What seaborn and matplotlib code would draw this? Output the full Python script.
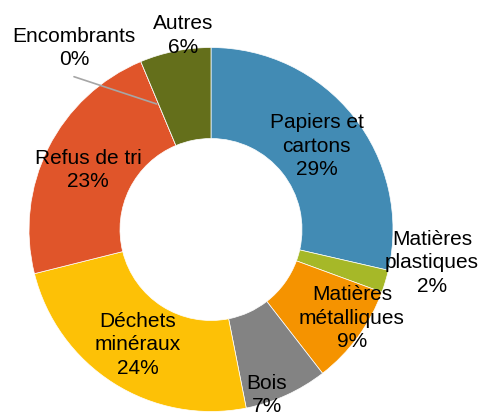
import matplotlib
matplotlib.use("Agg")
import matplotlib.pyplot as plt
import seaborn as sns
import numpy as np

sns.set_theme(style="white")
plt.rcParams['font.family'] = ['Liberation Sans', 'DejaVu Sans']

categories = ["Papiers et\ncartons", "Matières\nplastiques", "Matières\nmétalliques", "Bois",
              "Déchets\nminéraux", "Refus de tri", "Encombrants", "Autres"]
values = [28.6, 2.0, 8.9, 7.4, 24.2, 22.6, 0.0, 6.3]
pct_labels = ["29%", "2%", "9%", "7%", "24%", "23%", "0%", "6%"]
colors = ["#428BB4", "#A6B828", "#F59300", "#838383", "#FDC106", "#E0552A", "#A0A0A0", "#646F1B"]

fig = plt.figure(figsize=(4.8, 4.12), dpi=100)
ax = fig.add_axes([0, 0, 1, 1])
R = 182.0
cx, cy = 211.0, 229.5

wedges, _ = ax.pie(values, colors=colors, startangle=90, counterclock=False,
                   radius=1.0, wedgeprops=dict(width=0.5, edgecolor='white', linewidth=0.5),
                   frame=False)
ax.set_xlim(-cx / R, (480 - cx) / R)
ax.set_ylim((cy - 412) / R, cy / R)
ax.set_aspect('equal')
ax.axis('off')


def px(x, y):
    return ((x - cx) / R, (cy - y) / R)

label_pos = {
    0: px(316.7, 146),
    1: px(432, 263),
    2: px(352, 318),
    3: px(267, 395),
    4: px(138, 345),
    5: px(88, 170),
    6: px(74, 48),
    7: px(183, 35.5),
}
fs = 15
for i, (c, p) in enumerate(zip(categories, pct_labels)):
    x, y = label_pos[i]
    ax.text(x, y, c + "\n" + p, ha='center', va='center', fontsize=fs,
            color='black', linespacing=1.28)

# leader line for Encombrants
x0, y0 = px(156.7, 104)
x1, y1 = px(74, 76.7)
ax.plot([x0, x1], [y0, y1], color='#A6A6A6', linewidth=1.2)

fig.savefig("out.png", dpi=100)
